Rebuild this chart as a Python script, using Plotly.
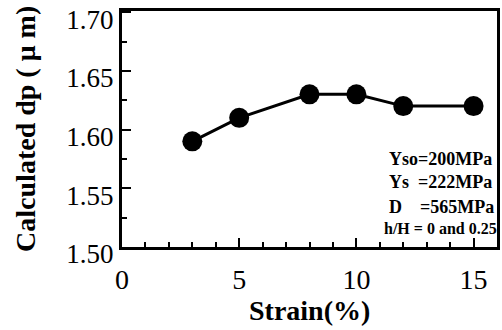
import plotly.graph_objects as go

strain = [3, 5, 8, 10, 12, 15]
dp = [1.59, 1.61, 1.63, 1.63, 1.62, 1.62]
x_ticks = [0, 5, 10, 15]
y_ticks = [1.50, 1.55, 1.60, 1.65, 1.70]
notes = ["Yso=200MPa", "Ys\u00a0\u00a0=222MPa", "D\u00a0\u00a0\u00a0\u00a0=565MPa", "h/H = 0 and 0.25"]

FONT = "Liberation Serif, Times New Roman, serif"
fig = go.Figure()
fig.add_trace(go.Scatter(
    x=strain, y=dp, mode="lines+markers",
    line=dict(color="black", width=3),
    marker=dict(color="black", size=20),
    showlegend=False, hoverinfo="skip",
))

note_pos = [(11.3, 1.5746, 18), (11.3, 1.555, 18), (11.3, 1.534, 18), (11.1, 1.516, 16)]
for txt, (x, y, s) in zip(notes, note_pos):
    fig.add_annotation(x=x, y=y, text="<b>%s</b>" % txt, showarrow=False,
                       xanchor="left", yanchor="middle",
                       font=dict(family=FONT, size=s, color="black"))

# axis titles as annotations for exact placement
fig.add_annotation(xref="paper", yref="paper", x=-0.259, y=0.5, textangle=-90,
                   text="<b>Calculated dp ( \u03bc m)</b>", showarrow=False,
                   xanchor="center", yanchor="middle",
                   font=dict(family=FONT, size=28, color="black"))
fig.add_annotation(xref="paper", yref="paper", x=0.5, y=-0.268,
                   text="<b>Strain(%)</b>", showarrow=False,
                   xanchor="center", yanchor="middle",
                   font=dict(family=FONT, size=28, color="black"))

axis_common = dict(
    showline=True, linewidth=3, linecolor="black", mirror=True,
    ticks="inside", ticklen=9, tickwidth=2, tickcolor="black",
    showgrid=False, zeroline=False, automargin=False,
    ticklabeloverflow="allow",
    tickprefix="<b>", ticksuffix="</b>",
)
fig.update_xaxes(range=[0, 16], tickvals=x_ticks, ticktext=[str(v) for v in x_ticks],
                 tickfont=dict(family=FONT, size=28, color="black"), ticklabelstandoff=5,
                 minor=dict(ticks="inside", dtick=1, ticklen=5, tickwidth=2, tickcolor="black"),
                 **axis_common)
fig.update_yaxes(range=[1.5, 1.701], tickvals=y_ticks, ticktext=["%.2f" % v for v in y_ticks],
                 tickfont=dict(family=FONT, size=27, color="black"), ticklabelshift=7,
                 minor=dict(ticks="inside", dtick=0.025, ticklen=5, tickwidth=2, tickcolor="black"),
                 **axis_common)
fig.update_layout(
    width=502, height=330,
    margin=dict(l=122, r=5, t=11, b=83),
    plot_bgcolor="white", paper_bgcolor="white",
    font=dict(family=FONT, color="black"),
)
fig.write_html("out.html", config={"displayModeBar": False},
               post_script="document.body.style.margin='0';")
